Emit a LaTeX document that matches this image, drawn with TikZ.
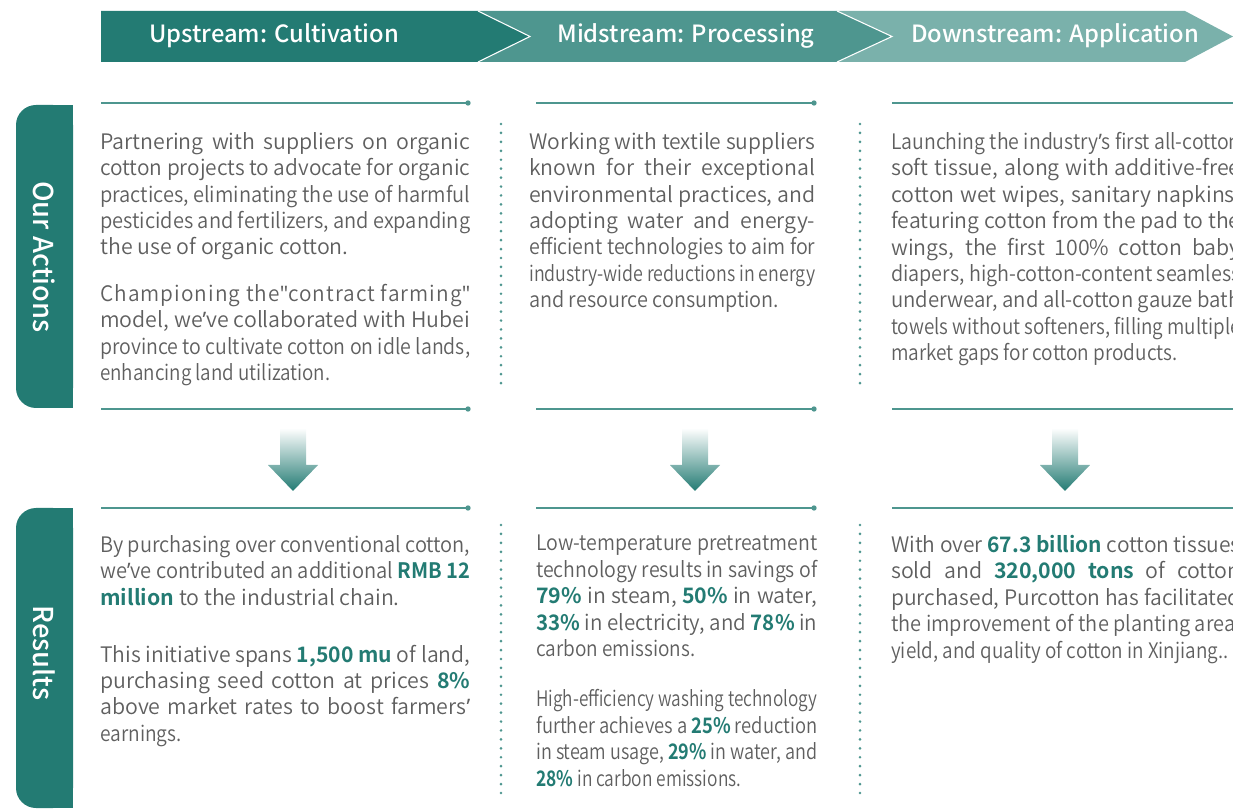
\documentclass[tikz,border=0pt]{standalone}
\usepackage{fontspec}
\usepackage{graphicx}
\setmainfont{Noto Sans CJK SC DemiLight}[BoldFont={Noto Sans CJK SC Bold}]
\newfontfamily\medfont{Noto Sans CJK SC Medium}
\newfontfamily\latinfont{Noto Sans}
\definecolor{tealA}{RGB}{35,123,115}
\definecolor{tealB}{RGB}{78,150,143}
\definecolor{tealC}{RGB}{122,177,171}
\definecolor{bodygrey}{RGB}{95,95,95}
\newcommand{\hl}[1]{\textbf{\color{tealA}#1}}
\newcommand{\ap}{{\latinfont ’}}
\newcommand{\dq}{{\latinfont\char"22}}
\newsavebox\jlbox
\newcommand{\jl}[2]{\sbox\jlbox{#2}\ifdim\wd\jlbox>#1\relax\resizebox{#1}{\height}{\usebox\jlbox}\else\makebox[#1][s]{#2}\fi}
\newlength\colwA \setlength\colwA{277.5pt}
\newlength\colwB \setlength\colwB{214.5pt}
\newlength\colwR \setlength\colwR{210.75pt}
\newlength\colwC \setlength\colwC{262pt}
\tikzset{
  headtext/.style={text=white,font=\medfont\fontsize{17.8}{22}\selectfont},
  tablabel/.style={text=white,rotate=-90,font=\medfont\fontsize{20.5}{24}\selectfont},
  bodytext/.style={anchor=north west,inner sep=0pt,align=left,text=bodygrey,
    font=\fontsize{16}{19.8}\selectfont},
  rule/.style={tealB,line width=1.5pt},
  dotrule/.style={tealB,line width=2.2pt,line cap=round,dash pattern=on 0pt off 6.7pt},
  downarrow/.style={top color=white,bottom color=tealA}
}
\begin{document}
\begin{tikzpicture}[x=0.75pt,y=-0.75pt]
\useasboundingbox (0,0) rectangle (1233,809);
\clip (0,0) rectangle (1233,809);
% header band
\fill[tealC] (837,11) -- (1185,11) -- (1233,36.5) -- (1185,62) -- (837,62) -- cycle;
\fill[tealB] (478,11) -- (837,11) -- (892,36.5) -- (837,62) -- (478,62) -- cycle;
\fill[tealA] (101,11) -- (478,11) -- (530,36.5) -- (478,62) -- (101,62) -- cycle;
\draw[white,line width=0.8pt] (478,11) -- (530,36.5) -- (478,62);
\draw[white,line width=0.8pt] (837,11) -- (892,36.5) -- (837,62);
\node[headtext] (up) at (274,36) {Upstream: Cultivation};
\node[headtext] (mid) at (686,36) {Midstream: Processing};
\node[headtext] (down) at (1055,36) {Downstream: Application};
% side tabs
\fill[tealA,rounded corners=15pt] (16,105) rectangle (73,408);
\fill[tealA] (50,105) rectangle (73,408);
\fill[tealA,rounded corners=15pt] (16,508) rectangle (73,808);
\fill[tealA] (50,508) rectangle (73,808);
\node[tablabel] (actions) at (44.5,257) {Our Actions};
\node[tablabel] (results) at (44.5,653) {Results};
% rules with end dots
\foreach \xa/\xb in {101/468,536/814,892/1250}{
  \foreach \yy in {103,409,508}{
    \draw[rule] (\xa,\yy) -- (\xb,\yy);
    \fill[tealB] (\xb,\yy) circle (2pt);
  }
}
\foreach \xx in {501,860}{
  \draw[dotrule] (\xx,124) -- (\xx,390);
  \draw[dotrule] (\xx,525) -- (\xx,795);
}
% arrows
\foreach \cx in {293,695,1065}{
  \shade[downarrow] (\cx-13,428) -- (\cx+13,428) -- (\cx+13,465) -- (\cx+25,465)
    -- (\cx,491) -- (\cx-25,465) -- (\cx-13,465) -- cycle;
}
% our actions
\node[bodytext] (act1) at (100,132) {%
\jl{\colwA}{Partnering with suppliers on organic}\\
\jl{\colwA}{cotton projects to advocate for organic}\\
\jl{\colwA}{practices, eliminating the use of harmful}\\
\jl{\colwA}{pesticides and fertilizers, and expanding}\\
the use of organic cotton.\\[15pt]
\jl{\colwA}{\addfontfeature{LetterSpace=5}Championing the\dq contract farming\dq}\\
\jl{\colwA}{model, we\ap ve collaborated with Hubei}\\
\jl{\colwA}{province to cultivate cotton on idle lands,}\\
\jl{172.5pt}{enhancing land utilization.}};
\node[bodytext] (act2) at (529,132) {%
\jl{\colwB}{Working with textile suppliers}\\
\jl{\colwB}{known for their exceptional}\\
\jl{\colwB}{environmental practices, and}\\
\jl{\colwB}{adopting water and energy-}\\
\jl{\colwB}{efficient technologies to aim for}\\
\jl{\colwB}{industry-wide reductions in energy}\\
\jl{187.5pt}{and resource consumption.}};
\node[bodytext] (act3) at (891,132) {%
\jl{\colwC}{Launching the industry\ap s first all-cotton}\\
\jl{\colwC}{soft tissue, along with additive-free}\\
\jl{\colwC}{cotton wet wipes, sanitary napkins,}\\
\jl{\colwC}{featuring cotton from the pad to the}\\
\jl{\colwC}{wings, the first 100\% cotton baby}\\
\jl{\colwC}{diapers, high-cotton-content seamless}\\
\jl{\colwC}{underwear, and all-cotton gauze bath}\\
\jl{\colwC}{towels without softeners, filling multiple}\\
\jl{214.5pt}{market gaps for cotton products.}};
% results
\node[bodytext] (res1) at (100,535) {%
\jl{\colwA}{By purchasing over conventional cotton,}\\
\jl{\colwA}{we\ap ve contributed an additional \hl{RMB 12}}\\
\hl{million} to the industrial chain.\\[23pt]
\jl{\colwA}{This initiative spans \hl{1,500 mu} of land,}\\
\jl{\colwA}{purchasing seed cotton at prices \hl{8\%}}\\
\jl{\colwA}{above market rates to boost farmers\ap}\\
\jl{61pt}{earnings.}};
\node[bodytext] (res2) at (536,535) {%
\jl{\colwR}{Low-temperature pretreatment}\\
\jl{\colwR}{technology results in savings of}\\
\jl{\colwR}{\hl{79\%} in steam, \hl{50\%} in water,}\\
\jl{\colwR}{\hl{33\%} in electricity, and \hl{78\%} in}\\
\jl{119.25pt}{carbon emissions.}\\[18pt]
\jl{\colwR}{High-efficiency washing technology}\\
\jl{\colwR}{further achieves a \hl{25\%} reduction}\\
\jl{\colwR}{in steam usage, \hl{29\%} in water, and}\\
\jl{153.75pt}{\hl{28\%} in carbon emissions.}};
\node[bodytext] (res3) at (891,535) {%
\jl{\colwC}{With over \hl{67.3 billion} cotton tissues}\\
\jl{\colwC}{sold and \hl{320,000 tons} of cotton}\\
\jl{\colwC}{purchased, Purcotton has facilitated}\\
\jl{\colwC}{the improvement of the planting area,}\\
\jl{252.75pt}{yield, and quality of cotton in Xinjiang..}};
\end{tikzpicture}
\end{document}
